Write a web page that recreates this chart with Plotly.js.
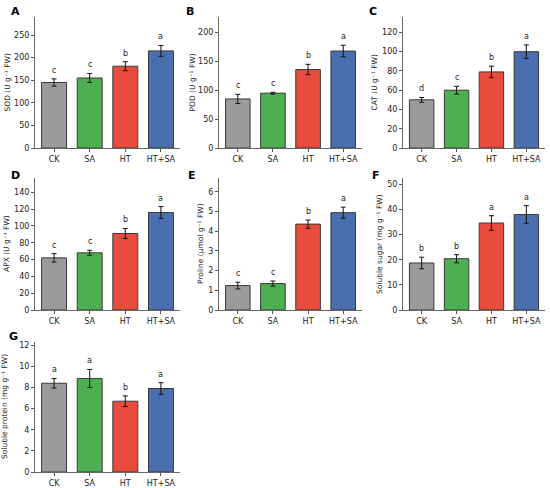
<!DOCTYPE html>
<html>
<head>
<meta charset="utf-8">
<script src="https://cdn.plot.ly/plotly-3.0.1.min.js"></script>
<style>html,body{margin:0;padding:0;background:#fff;}#chart{width:550px;height:488px;}</style>
</head>
<body>
<div id="chart"></div>
<script>
const categories = ["CK", "SA", "HT", "HT+SA"];
const colors = ["#9b9b9b", "#4caf50", "#e74c3c", "#4a6fae"];

const panelLabels = ["A", "B", "C", "D", "E", "F", "G"];
const yTitles = [
  "SOD (U g\u207b\u00b9 FW)",
  "POD (U g\u207b\u00b9 FW)",
  "CAT (U g\u207b\u00b9 FW)",
  "APX (U g\u207b\u00b9 FW)",
  "Proline (\u03bcmol g\u207b\u00b9 FW)",
  "Soluble sugar (mg g\u207b\u00b9 FW)",
  "Soluble protein (mg g\u207b\u00b9 FW)"
];

const sodMean = [145, 155, 181, 215];
const sodErr = [8, 10, 10, 12];
const sodLetters = ["c", "c", "b", "a"];

const podMean = [85, 95, 136, 168];
const podErr = [8, 1.5, 9, 10];
const podLetters = ["c", "c", "b", "a"];

const catMean = [50, 60, 79, 100];
const catErr = [2.5, 4, 6, 7];
const catLetters = ["d", "c", "b", "a"];

const apxMean = [62, 68, 91, 116];
const apxErr = [5, 3, 6, 7];
const apxLetters = ["c", "c", "b", "a"];

const prolineMean = [1.24, 1.34, 4.36, 4.94];
const prolineErr = [0.17, 0.13, 0.21, 0.28];
const prolineLetters = ["c", "c", "b", "a"];

const sugarMean = [18.7, 20.4, 34.6, 38.0];
const sugarErr = [2.3, 1.6, 2.9, 3.5];
const sugarLetters = ["b", "b", "a", "a"];

const proteinMean = [8.4, 8.85, 6.7, 7.9];
const proteinErr = [0.45, 0.85, 0.5, 0.55];
const proteinLetters = ["a", "a", "b", "a"];

const yMax = [290, 227, 136, 157, 6.7, 52.5, 12.3];
const yDtick = [50, 50, 20, 20, 1, 10, 2];

const means = [sodMean, podMean, catMean, apxMean, prolineMean, sugarMean, proteinMean];
const errs = [sodErr, podErr, catErr, apxErr, prolineErr, sugarErr, proteinErr];
const letters = [sodLetters, podLetters, catLetters, apxLetters, prolineLetters, sugarLetters, proteinLetters];

// layout geometry (px)
const W = 550, H = 488;
const cols = [[35, 180], [219, 362], [403, 545]];
const rows = [[17, 148], [178, 310], [342, 472]];
const titleX = [7, 192, 374, 6, 200, 379, 4];
const labelPos = [[9, 11], [184, 11], [367, 11], [9, 176], [186, 176], [370, 176], [7, 336]];

const traces = [];
const layout = {
  width: W, height: H,
  margin: {l: 0, r: 0, t: 0, b: 0},
  paper_bgcolor: "#fff", plot_bgcolor: "#fff",
  showlegend: false,
  font: {family: "DejaVu Sans", size: 8, color: "#222"},
  annotations: []
};

for (let i = 0; i < 7; i++) {
  const c = cols[i % 3], r = rows[Math.floor(i / 3)];
  const xa = "x" + (i + 1), ya = "y" + (i + 1);
  const xk = i === 0 ? "xaxis" : "xaxis" + (i + 1);
  const yk = i === 0 ? "yaxis" : "yaxis" + (i + 1);
  traces.push({
    type: "bar",
    x: [0, 1, 2, 3],
    y: means[i],
    width: 0.7,
    marker: {color: colors, line: {color: "#3a3a3a", width: 1}},
    error_y: {type: "data", array: errs[i], visible: true, color: "#111", thickness: 1, width: 2.5},
    xaxis: xa, yaxis: ya,
    hoverinfo: "none"
  });
  layout[xk] = {
    domain: [c[0] / W, c[1] / W],
    anchor: ya,
    range: [-0.535, 3.535],
    tickmode: "array",
    tickvals: [0, 1, 2, 3],
    ticktext: categories,
    ticks: "outside", ticklen: 3, tickwidth: 1, tickcolor: "#555",
    showline: true, linecolor: "#666", linewidth: 1,
    showgrid: false, zeroline: false,
    tickfont: {family: "DejaVu Sans", size: 8, color: "#222"},
    fixedrange: true
  };
  layout[yk] = {
    domain: [1 - r[1] / H, 1 - r[0] / H],
    anchor: xa,
    range: [0, yMax[i]],
    dtick: yDtick[i], tick0: 0,
    ticks: "outside", ticklen: 3, tickwidth: 1, tickcolor: "#555",
    showline: true, linecolor: "#666", linewidth: 1,
    showgrid: false, zeroline: false,
    tickfont: {family: "DejaVu Sans", size: 8, color: "#222"},
    fixedrange: true
  };
  layout.annotations.push({
    xref: "paper", yref: "paper",
    x: titleX[i] / W, y: 1 - (r[0] + r[1]) / 2 / H,
    text: yTitles[i], textangle: -90, showarrow: false,
    xanchor: "center", yanchor: "middle",
    font: {family: "DejaVu Sans", size: 7.5, color: "#222"}
  });
  layout.annotations.push({
    xref: "paper", yref: "paper",
    x: labelPos[i][0] / W, y: 1 - labelPos[i][1] / H,
    text: "<b>" + panelLabels[i] + "</b>", showarrow: false,
    xanchor: "left", yanchor: "middle",
    font: {family: "DejaVu Sans", size: 11, color: "#000"}
  });
  for (let j = 0; j < 4; j++) {
    layout.annotations.push({
      xref: xa, yref: ya,
      x: j, y: means[i][j] + errs[i][j],
      text: letters[i][j], showarrow: false,
      xanchor: "center", yanchor: "bottom", yshift: 2,
      font: {family: "DejaVu Sans", size: 8, color: "#222"}
    });
  }
}

Plotly.newPlot("chart", traces, layout, {staticPlot: true, displayModeBar: false});
</script>
</body>
</html>
